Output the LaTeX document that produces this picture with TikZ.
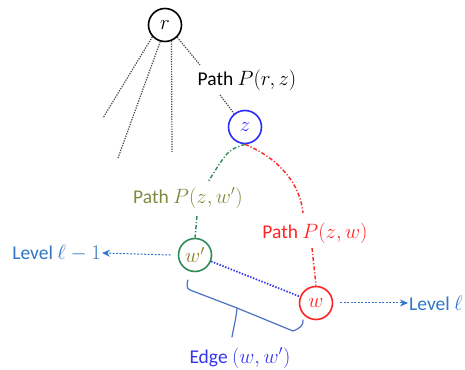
\documentclass[tikz,border=0pt]{standalone}
\usepackage{fontspec}
\setmainfont{Carlito}
\usetikzlibrary{arrows.meta}
\definecolor{nblue}{HTML}{2B2BFF}
\definecolor{ngreen}{HTML}{2E8B57}
\definecolor{olive}{HTML}{7A8C3C}
\definecolor{gold}{HTML}{8B7A20}
\definecolor{nred}{HTML}{FF2424}
\definecolor{lvblue}{HTML}{2E75C8}
\definecolor{edgeblue}{HTML}{3535EE}
\definecolor{brblue}{HTML}{4A72C0}
\tikzset{
  vert/.style={circle, draw, line width=1.6pt, minimum size=33pt, inner sep=0pt, font=\fontsize{19.5}{22}\selectfont},
  lbl/.style={font=\fontsize{19.5}{22}\selectfont, inner sep=1pt},
  graydot/.style={draw=gray!60!black, line width=1.2pt, dash pattern=on 1.3pt off 1.2pt},
  dashdotg/.style={draw=ngreen, line width=1.4pt, dash pattern=on 4pt off 2pt on 1.2pt off 2pt},
  dashdotr/.style={draw=nred, line width=1.4pt, dash pattern=on 4pt off 2pt on 1.2pt off 2pt},
  lvarrow/.style={draw=lvblue, line width=1pt, dash pattern=on 2pt off 1.5pt, -{Stealth[length=8pt,width=7pt]}},
  edgeline/.style={draw=edgeblue, line width=1.7pt, dash pattern=on 1.5pt off 1.5pt},
  bracestyle/.style={draw=brblue, line width=1.2pt, line join=round, line cap=round}
}
\begin{document}
\begin{tikzpicture}[x=1pt,y=1pt]
\useasboundingbox (0,0) rectangle (465,369);
% nodes
\node[vert, draw=black] (r) at (165,344) {$r$};
\node[vert, draw=nblue, text=nblue] (z) at (245,242) {$z$};
\node[vert, draw=ngreen, text=gold] (wp) at (195,114) {$w'$};
\node[vert, draw=nred, text=nred] (w) at (316,66) {$w$};
% free ends of the tree lines
\coordinate (e1) at (103,251);
\coordinate (e2) at (118,211);
\coordinate (e3) at (172,217);
\draw[graydot] (r.223) -- (e1);
\draw[graydot] (r.254) -- (e2);
\draw[graydot] (r.292) -- (e3);
% path r-z
\node[lbl] (prz) at (247,289) {Path $P(r,z)$};
\coordinate (a1) at (200,304);
\coordinate (a2) at (220,274);
\draw[graydot] (r.315) -- (a1);
\draw[graydot] (a2) -- (z.129);
% green path
\node[lbl, text=olive] (pzwp) at (188,171) {Path $P(z,w')$};
\coordinate (g1) at (208,187);
\coordinate (g2) at (197,153);
\draw[dashdotg] (z.south) .. controls (228,219) .. (g1);
\draw[dashdotg] (g2) -- (wp.north);
% red path
\node[lbl, text=nred] (pzw) at (315,136) {Path $P(z,w)$};
\coordinate (q1) at (303,156);
\coordinate (q2) at (312,121);
\draw[dashdotr] (z.south) .. controls (280,210) and (300,185) .. (q1);
\draw[dashdotr] (q2) -- (w.north);
% edge
\draw[edgeline] (wp) -- (w);
% levels
\node[lbl, text=lvblue, anchor=east] (lv1) at (102,116) {Level $\ell-1$};
\node[lbl, text=lvblue, anchor=west] (lv) at (408,66) {Level $\ell$};
\draw[lvarrow] ([xshift=-7pt]wp.west) -- (lv1.east);
\draw[lvarrow] ([xshift=7pt]w.east) -- (lv.west);
% brace
\node[lbl, text=edgeblue] (edge) at (240,11) {Edge $(w,w')$};
\coordinate (tip) at (232,32);
\coordinate (notch) at (237,61);
\draw[bracestyle] (188,89) to[out=250,in=160] (190,79) -- (notch) -- (293,38) to[out=20,in=-80] (303,49);
\draw[bracestyle] (notch) to[out=-95,in=80] (tip);
\end{tikzpicture}
\end{document}
